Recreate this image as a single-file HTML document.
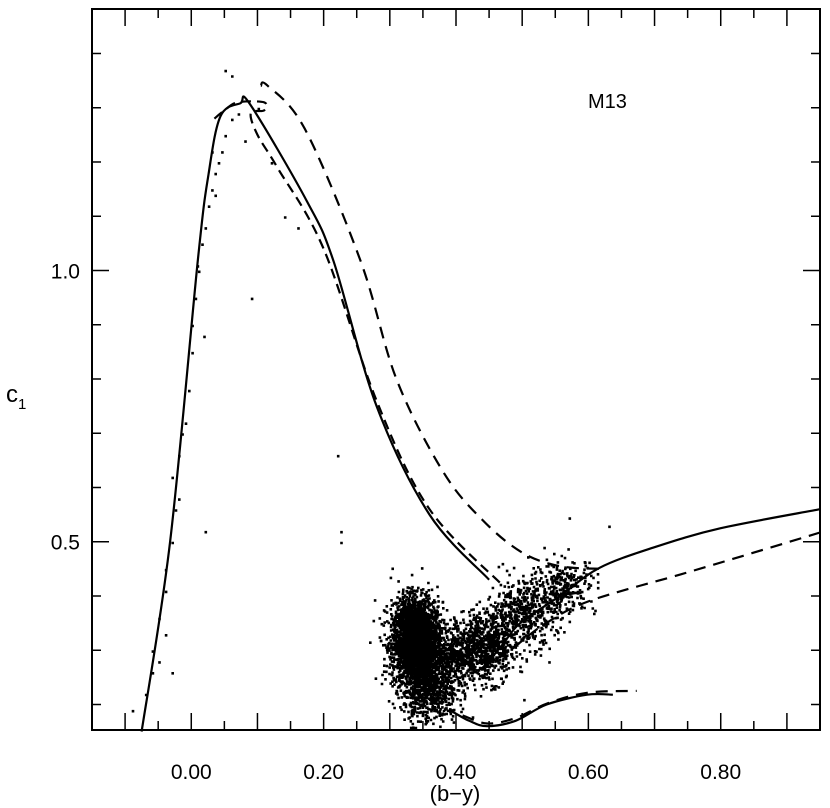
<!DOCTYPE html>
<html><head><meta charset="utf-8"><style>
html,body{margin:0;padding:0;background:#fff;}
svg{display:block;}
text{font-family:"Liberation Sans",sans-serif;fill:#000;}
</style></head><body>
<svg id="chart" width="830" height="808" viewBox="0 0 830 808">
<rect x="92" y="9" width="728" height="721" fill="none" stroke="#000" stroke-width="2"/>
<g id="ticks"></g>
<g id="marks"></g>
<g id="lines"></g>
<g id="labels"></g>
<text x="588" y="108" font-size="20" font-family="Liberation Serif,serif">M13</text>
<text x="455" y="801" font-size="22" text-anchor="middle">(b−y)</text>
<text x="6" y="402" font-size="24">c<tspan font-size="15" dy="7">1</tspan></text>
</svg>
<script>
const xTicksMajor=[0.0,0.2,0.4,0.6,0.8];
const xTickLabels=["0.00","0.20","0.40","0.60","0.80"];
const yTicksMajor=[1.0,0.5];
const yTickLabels=["1.0","0.5"];
const solidMain=[[-0.075,0.15],[-0.032,0.5],[0.01,1.02],[0.026,1.177],[0.044,1.284],[0.074,1.308],[0.089,1.306],[0.175,1.127],[0.215,1.017],[0.28,0.75],[0.36,0.55],[0.45,0.43]];
const dashedCompanion=[[0.035,1.28],[0.05,1.295],[0.07,1.31],[0.11,1.31],[0.11,1.295],[0.09,1.29],[0.10,1.25],[0.13,1.19],[0.2,1.04],[0.28,0.76],[0.36,0.56],[0.47,0.42]];
const dashedMain=[[0.105,1.34],[0.115,1.341],[0.172,1.26],[0.256,1.017],[0.31,0.8],[0.38,0.63],[0.44,0.54],[0.5,0.48],[0.557,0.455],[0.62,0.45]];
const solidGiant=[[0.39,0.31],[0.42,0.275],[0.437,0.265],[0.47,0.31],[0.497,0.35],[0.557,0.40],[0.617,0.452],[0.7,0.49],[0.8,0.525],[0.95,0.56]];
const dashedGiant=[[0.43,0.275],[0.47,0.29],[0.53,0.345],[0.6,0.39],[0.74,0.44],[0.85,0.48],[0.95,0.517]];
const solidLower=[[0.39,0.19],[0.42,0.17],[0.447,0.16],[0.49,0.17],[0.537,0.20],[0.598,0.218],[0.637,0.218]];
const dashedLower=[[0.41,0.18],[0.447,0.165],[0.49,0.175],[0.54,0.203],[0.6,0.222],[0.673,0.225]];
// star groups: centre x, centre c1, spread x, spread c1, count
const groupCx=[0.34,0.36,0.445,0.50,0.56,0.40,0.335];
const groupCy=[0.31,0.23,0.31,0.37,0.42,0.29,0.34];
const groupSx=[0.019,0.02,0.022,0.025,0.025,0.015,0.015];
const groupSy=[0.04,0.03,0.033,0.03,0.025,0.025,0.03];
const groupN=[2400,650,700,450,280,350,900];
// blue HB stars (b-y, c1)
const hbX=[-0.09,-0.07,-0.06,-0.05,-0.05,-0.04,-0.04,-0.03,-0.03,-0.025,-0.02,-0.02,-0.01,-0.005,0.0,0.0,0.005,0.01,0.015,0.02,0.025,0.03,0.035,0.04,0.045,0.05,0.06,0.07,0.08,0.09,0.1,0.12,0.14,0.16,0.02,-0.06,-0.04,0.03,0.06,-0.03,0.035,0.018,-0.015,0.22,0.225,0.225,0.57,0.63,0.05,0.008];
const hbY=[0.19,0.22,0.3,0.28,0.36,0.33,0.45,0.5,0.62,0.56,0.66,0.58,0.72,0.78,0.85,0.9,0.95,1.0,1.05,1.08,1.12,1.15,1.18,1.2,1.22,1.25,1.28,1.29,1.24,0.95,1.3,1.2,1.1,1.08,0.52,0.26,0.41,1.22,1.36,0.26,1.14,0.88,0.7,0.66,0.52,0.5,0.545,0.53,1.37,1.01];
const NS='http://www.w3.org/2000/svg';
const X0=-0.15,X1=0.95,Y0=0.153,Y1=1.482;
function sx(v){return 92+(v-X0)/(X1-X0)*728;}
function sy(v){return 730-(v-Y0)/(Y1-Y0)*721;}
const ticks=document.getElementById('ticks');
function ln(g,x1,y1,x2,y2,w){const l=document.createElementNS(NS,'line');l.setAttribute('x1',x1);l.setAttribute('y1',y1);l.setAttribute('x2',x2);l.setAttribute('y2',y2);l.setAttribute('stroke','#000');l.setAttribute('stroke-width',w||1.5);g.appendChild(l);return l;}
for(let k=-3;k<=19;k++){const v=k*0.05;if(v<X0-1e-9||v>X1+1e-9)continue;const px=sx(v);const L=(k%2===0)?17:9;
const t1=ln(ticks,px,730,px,730-L);


const t2=ln(ticks,px,9,px,9+L);

}
for(let k=2;k<=14;k++){const v=k*0.1;if(v<Y0||v>Y1)continue;const py=sy(v);const L=(k%5===0)?17:9;
const t1=ln(ticks,92,py,92+L,py);


const t2=ln(ticks,820,py,820-L,py);

}
const labels=document.getElementById('labels');
xTicksMajor.forEach((v,i)=>{const t=document.createElementNS(NS,'text');t.setAttribute('x',sx(v));t.setAttribute('y',779);t.setAttribute('font-size','21');t.setAttribute('text-anchor','middle');t.textContent=xTickLabels[i];


labels.appendChild(t);});
yTicksMajor.forEach((v,i)=>{const t=document.createElementNS(NS,'text');t.setAttribute('x',80);t.setAttribute('y',sy(v)+8);t.setAttribute('font-size','21');t.setAttribute('text-anchor','end');t.textContent=yTickLabels[i];


labels.appendChild(t);});
const marks=document.getElementById('marks');
let seed=12345;function rnd(){seed=(seed*1103515245+12345)%2147483648;return seed/2147483648;}
function gauss(){let u=rnd()||1e-6,v=rnd();return Math.sqrt(-2*Math.log(u))*Math.cos(2*Math.PI*v);}
let d='';
function dot(x,y){const px=sx(x),py=sy(y);if(px<93||px>817||py<10||py>727)return;d+='M'+px.toFixed(1)+' '+py.toFixed(1)+'h2.6v2.6h-2.6z';}
groupCx.forEach((cx,g)=>{for(let i=0;i<groupN[g];i++){dot(cx+gauss()*groupSx[g],groupCy[g]+gauss()*groupSy[g]);}});
hbX.forEach((x,i)=>dot(x,hbY[i]));
const p=document.createElementNS(NS,'path');p.setAttribute('d',d);p.setAttribute('fill','#000');


marks.appendChild(p);
const lines=document.getElementById('lines');
function smooth(arr){const P=arr.map(a=>[sx(a[0]),sy(a[1])]);let s='M'+P[0][0].toFixed(1)+' '+P[0][1].toFixed(1);
for(let i=0;i<P.length-1;i++){const p0=P[Math.max(0,i-1)],p1=P[i],p2=P[i+1],p3=P[Math.min(P.length-1,i+2)];
const c1=[p1[0]+(p2[0]-p0[0])/6,p1[1]+(p2[1]-p0[1])/6],c2=[p2[0]-(p3[0]-p1[0])/6,p2[1]-(p3[1]-p1[1])/6];
s+='C'+c1[0].toFixed(1)+' '+c1[1].toFixed(1)+' '+c2[0].toFixed(1)+' '+c2[1].toFixed(1)+' '+p2[0].toFixed(1)+' '+p2[1].toFixed(1);}return s;}
function poly(arr,dash,name){const pl=document.createElementNS(NS,'path');pl.setAttribute('d',smooth(arr));pl.setAttribute('fill','none');pl.setAttribute('stroke','#000');pl.setAttribute('stroke-width','2.2');if(dash)pl.setAttribute('stroke-dasharray',dash);


lines.appendChild(pl);}
poly(solidMain,null,'solid-isochrone-upper');
poly(dashedCompanion,'10,6','dashed-isochrone-companion');
poly(dashedMain,'12,8','dashed-isochrone-upper');
poly(solidGiant,null,'solid-isochrone-giant');
poly(dashedGiant,'12,8','dashed-isochrone-giant');
poly(solidLower,null,'solid-isochrone-lower');
poly(dashedLower,'12,8','dashed-isochrone-lower');
</script>
</body></html>
